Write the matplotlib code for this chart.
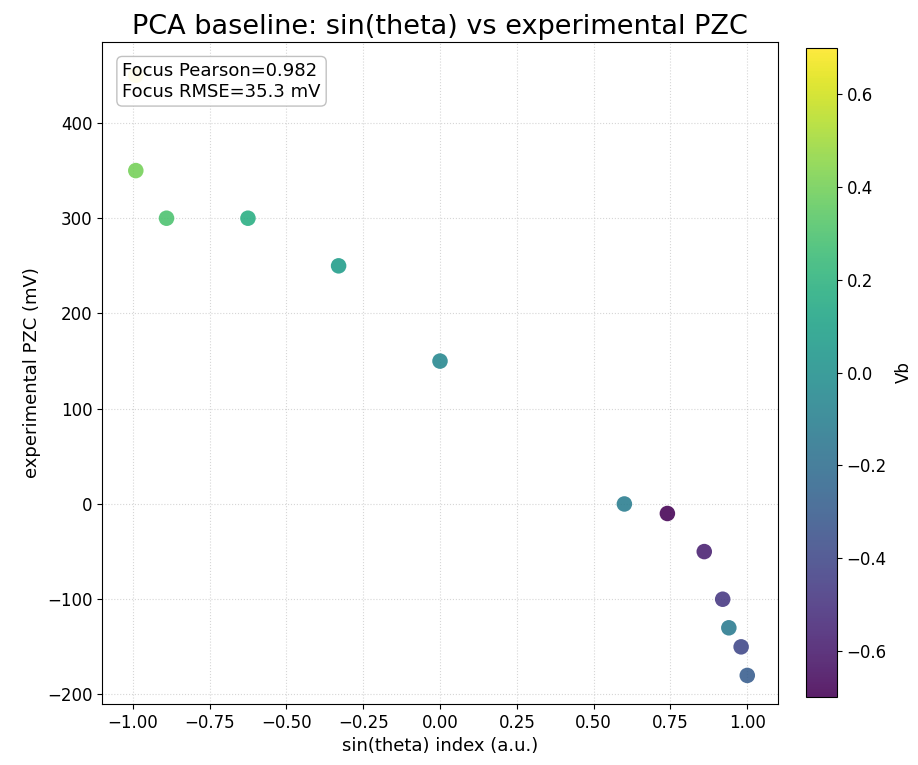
import numpy as np
import matplotlib
matplotlib.use("Agg")
import matplotlib.pyplot as plt

# valores
sin_theta = [-0.99, -0.99, -0.89, -0.625, -0.33, 0.0, 0.60, 0.74, 0.86, 0.92, 0.94, 0.98, 1.0]
pzc_mv = [450, 350, 300, 300, 250, 150, 0, -10, -50, -100, -130, -150, -180]
vb = [0.68, 0.40, 0.30, 0.17, 0.07, -0.05, -0.12, -0.70, -0.58, -0.48, -0.13, -0.40, -0.30]

pearson = 0.982
rmse = 35.3

W, H = 918, 765
fig = plt.figure(figsize=(W / 100, H / 100), dpi=100)
# posições em pixels (esq, baixo, largura, altura)
ax = fig.add_axes([102 / W, (H - 704) / H, 676 / W, 662 / H])
cax = fig.add_axes([806 / W, (H - 697) / H, 31 / W, 649 / H])

sc = ax.scatter(sin_theta, pzc_mv, c=vb, cmap="viridis", vmin=-0.7, vmax=0.7,
                s=125, alpha=0.88, edgecolors="none", zorder=3)
cb = fig.colorbar(sc, cax=cax)
cb.set_label("Vb", fontsize=12, labelpad=6)
cb.ax.tick_params(labelsize=12)

ax.set_xlim(-1.1, 1.1)
ax.set_ylim(-210, 485)
ax.set_xlabel("sin(theta) index (a.u.)", fontsize=13)
ax.set_ylabel("experimental PZC (mV)", fontsize=13)
ax.set_title("PCA baseline: sin(theta) vs experimental PZC", fontsize=19.5)
ax.tick_params(labelsize=12)
ax.grid(True, linestyle=":", color="#cccccc", alpha=0.8)

ax.text(0.03, 0.97, f"Focus Pearson={pearson:.3f}\nFocus RMSE={rmse:.1f} mV",
        transform=ax.transAxes, va="top", ha="left", fontsize=13,
        bbox=dict(boxstyle="round", facecolor="white", edgecolor="#bbbbbb", alpha=0.9),
        zorder=5)

fig.savefig("out.png", dpi=100)
